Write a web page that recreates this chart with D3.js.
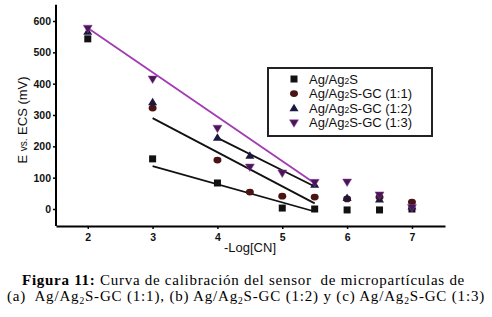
<!DOCTYPE html>
<html><head><meta charset="utf-8">
<script src="https://cdn.jsdelivr.net/npm/d3@7"></script>
<style>body{margin:0;background:#fff}svg{display:block}</style>
</head><body>
<script>
// ---- data ----
const seriesNames = ["Ag/Ag2S", "Ag/Ag2S-GC (1:1)", "Ag/Ag2S-GC (1:2)", "Ag/Ag2S-GC (1:3)"];
const sqX = [2, 3, 4, 5, 5.5, 6, 6.5, 7];
const sqY = [543, 160, 83, 3, 0, -3, -3, 0];
const ciX = [3, 4, 4.5, 5, 5.5, 6, 6.5, 7];
const ciY = [322, 156, 54, 41, 38, 32, 38, 22];
const tuX = [2, 3, 4, 4.5, 5.5, 6, 6.5, 7];
const tuY = [566, 341, 227, 170, 77, 35, 30, 8];
const tdX = [2, 3, 4, 4.5, 5, 5.5, 6, 6.5, 7];
const tdY = [577, 415, 258, 134, 115, 85, 86, 45, 5];
// fitted calibration lines (end points)
const sqFit = [[3, 137], [5.5, -8]];
const ciFit = [[3, 290], [5.5, 18]];
const tuFit = [[4, 227], [5.5, 72]];
const tdFit = [[2, 578], [5.5, 82]];
const xTicks = [2, 3, 4, 5, 6, 7];
const yTicks = [0, 100, 200, 300, 400, 500, 600];

const W = 492, H = 317;
const svg = d3.select("body").append("svg").attr("width", W).attr("height", H);
const x = d3.scaleLinear().domain([1.51, 7.51]).range([56, 445]);
const y = d3.scaleLinear().domain([0, 600]).range([209, 21]);
const yTop = 652, yBot = -54;

const g = svg.append("g");
// axes
const ax = g.append("g").attr("transform", `translate(0,${y(yBot)})`)
  .call(d3.axisBottom(x).tickValues(xTicks).tickSize(3).tickSizeOuter(0).tickFormat(d3.format("d")));
const ay = g.append("g").attr("transform", `translate(${x(1.51)},0)`)
  .call(d3.axisLeft(y).tickValues(yTicks).tickSize(3).tickSizeOuter(0).tickFormat(d3.format("d")));
ay.select(".domain").attr("d", `M0,${y(yTop)}V${y(yBot)}`);
[ax, ay].forEach(a => {
  a.select(".domain").attr("stroke", "#000").attr("stroke-width", 2);
  a.selectAll(".tick line").attr("stroke", "#000").attr("stroke-width", 1.5);
  a.selectAll(".tick text").attr("font-family", "Liberation Sans, Arial, sans-serif")
    .attr("font-size", 10.5).attr("font-weight", "bold").attr("fill", "#111");
});
ax.selectAll(".tick text").attr("dy", "0.9em");
ay.selectAll(".tick text").attr("dx", "1px");

// fit lines
const line = d3.line().x(d => x(d[0])).y(d => y(d[1]));
[[sqFit, "#111"], [ciFit, "#111"], [tuFit, "#111"], [tdFit, "#a23ab2"]].forEach(([d, c]) => {
  g.append("path").attr("d", line(d)).attr("fill", "none").attr("stroke", c).attr("stroke-width", 1.8);
});

// markers
function drawSquare(sel, px, py) {
  sel.append("rect").attr("x", px - 3.5).attr("y", py - 3.5).attr("width", 7).attr("height", 7).attr("fill", "#111");
}
function drawCircle(sel, px, py) {
  sel.append("ellipse").attr("cx", px).attr("cy", py).attr("rx", 4).attr("ry", 3.4).attr("fill", "#4a1414");
}
function drawTriUp(sel, px, py) {
  sel.append("path").attr("d", `M${px},${py - 4.5}L${px + 4.5},${py + 3}L${px - 4.5},${py + 3}Z`).attr("fill", "#1c1840");
}
function drawTriDown(sel, px, py) {
  sel.append("path").attr("d", `M${px - 4.5},${py - 3}L${px + 4.5},${py - 3}L${px},${py + 4.5}Z`)
    .attr("fill", "#451a52").attr("stroke", "#9a3cae").attr("stroke-width", 0.5);
}
const mk = g.append("g");
sqX.forEach((v, i) => drawSquare(mk, x(v), y(sqY[i])));
ciX.forEach((v, i) => drawCircle(mk, x(v), y(ciY[i])));
tuX.forEach((v, i) => drawTriUp(mk, x(v), y(tuY[i])));
tdX.forEach((v, i) => drawTriDown(mk, x(v), y(tdY[i])));

// legend
const lg = svg.append("g");
lg.append("rect").attr("x", 268).attr("y", 68).attr("width", 164).attr("height", 68)
  .attr("fill", "#fff").attr("stroke", "#222").attr("stroke-width", 2);
const drawers = [drawSquare, drawCircle, drawTriUp, drawTriDown];
seriesNames.forEach((n, i) => {
  const ly = 79 + i * 14.6;
  drawers[i](lg, 294, ly);
  const t = lg.append("text").attr("x", 309).attr("y", ly + 4.5)
    .attr("font-family", "Liberation Sans, Arial, sans-serif").attr("font-size", 13).attr("fill", "#111");
  const parts = n.split("2");
  t.append("tspan").text(parts[0]);
  t.append("tspan").attr("font-size", 8.5).text("2");
  t.append("tspan").text(parts.slice(1).join("2"));
});

// axis titles
const yl = svg.append("text").attr("transform", `translate(27,120) rotate(-90)`).attr("text-anchor", "middle")
  .attr("font-family", "Liberation Sans, Arial, sans-serif").attr("font-size", 13).attr("fill", "#111");
yl.append("tspan").text("E ");
yl.append("tspan").attr("font-size", 10).text("vs.");
yl.append("tspan").text(" ECS (mV)");
svg.append("text").attr("x", 250).attr("y", 252).attr("text-anchor", "middle")
  .attr("font-family", "Liberation Sans, Arial, sans-serif").attr("font-size", 13).attr("fill", "#111")
  .text("-Log[CN]");

// caption
function fit(textSel, left, right) {
  const node = textSel.node();
  const w = node.getComputedTextLength();
  const n = node.textContent.length;
  textSel.attr("letter-spacing", ((right - left) - w) / n);
}
const cap1 = svg.append("text").attr("x", 22).attr("y", 285)
  .attr("font-family", "Liberation Serif, Times New Roman, serif").attr("font-size", 15).attr("fill", "#000")
  .attr("xml:space", "preserve");
cap1.append("tspan").attr("font-weight", "bold").text("Figura 11:");
cap1.append("tspan").text(" Curva de calibración del sensor  de micropartículas de");
fit(cap1, 22, 465);
const cap2 = svg.append("text").attr("x", 7).attr("y", 301)
  .attr("font-family", "Liberation Serif, Times New Roman, serif").attr("font-size", 15).attr("fill", "#000")
  .attr("xml:space", "preserve");
const segs = [["(a)  Ag/Ag", false], ["2", true], ["S-GC (1:1), (b) Ag/Ag", false], ["2", true], ["S-GC (1:2) y (c) Ag/Ag", false], ["2", true], ["S-GC (1:3)", false]];
segs.forEach(([s, sub], i) => {
  const ts = cap2.append("tspan").text(s);
  if (sub) ts.attr("font-size", 9.5).attr("dy", 3);
  else if (i > 0) ts.attr("dy", -3);
});
fit(cap2, 7, 485);
</script>
</body></html>
